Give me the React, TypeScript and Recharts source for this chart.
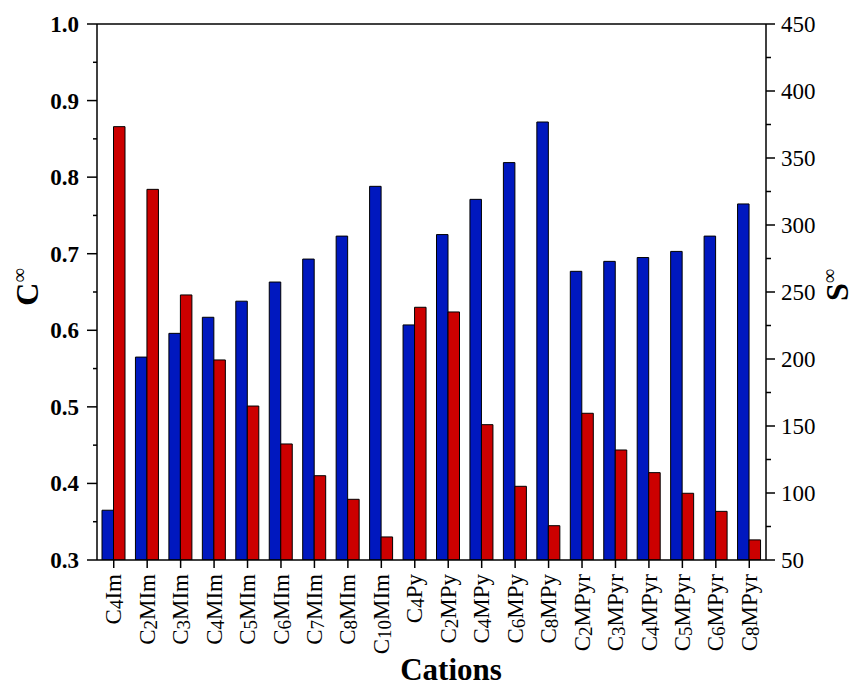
import React from "react";
import { BarChart, Bar, XAxis, YAxis, ReferenceLine } from "recharts";

const CATIONS = [
  "C4Im", "C2MIm", "C3MIm", "C4MIm", "C5MIm", "C6MIm", "C7MIm", "C8MIm", "C10MIm",
  "C4Py", "C2MPy", "C4MPy", "C6MPy", "C8MPy",
  "C2MPyr", "C3MPyr", "C4MPyr", "C5MPyr", "C6MPyr", "C8MPyr",
];
const C_INF = [
  0.365, 0.565, 0.596, 0.617, 0.638, 0.663, 0.693, 0.723, 0.788,
  0.607, 0.725, 0.771, 0.819, 0.872,
  0.677, 0.690, 0.695, 0.703, 0.723, 0.765,
];
const S_INF = [
  373.4, 326.6, 247.8, 199.3, 164.9, 136.6, 112.9, 95.3, 67.2,
  238.6, 235.1, 151.0, 105.0, 75.6,
  159.5, 132.1, 115.2, 99.8, 86.3, 65.0,
];
const LEFT_TICKS = [0.3, 0.35, 0.4, 0.45, 0.5, 0.55, 0.6, 0.65, 0.7, 0.75, 0.8, 0.85, 0.9, 0.95, 1.0];
const RIGHT_TICKS = [50, 75, 100, 125, 150, 175, 200, 225, 250, 275, 300, 325, 350, 375, 400, 425, 450];

const data = CATIONS.map((name, i) => ({ name, c: C_INF[i], s: S_INF[i] }));

const W = 854;
const H = 686;
const LEFT_W = 97;
const RIGHT_W = 88;
const TOP = 24;
const XAXIS_H = 126;
const PLOT_LEFT = LEFT_W;
const PLOT_RIGHT = W - RIGHT_W;
const FONT = "'Liberation Serif', 'Times New Roman', serif";
const BLUE = "#0018BF";
const RED = "#CC0000";

const LeftTick = (props: any) => {
  const { y, payload } = props;
  const v = payload.value as number;
  const major = Math.abs(v * 10 - Math.round(v * 10)) < 1e-6;
  return (
    <g>
      <line x1={PLOT_LEFT} x2={PLOT_LEFT - (major ? 10 : 4)} y1={y} y2={y} stroke="#000" strokeWidth={1.5} />
      {major && (
        <text x={PLOT_LEFT - 18} y={y} dy="0.35em" textAnchor="end" fontFamily={FONT} fontWeight="bold" fontSize={23} fill="#000">
          {v.toFixed(1)}
        </text>
      )}
    </g>
  );
};

const RightTick = (props: any) => {
  const { y, payload } = props;
  const v = payload.value as number;
  const major = v % 50 === 0;
  return (
    <g>
      <line x1={PLOT_RIGHT} x2={PLOT_RIGHT + (major ? 9 : 5)} y1={y} y2={y} stroke="#000" strokeWidth={1.5} />
      {major && (
        <text x={PLOT_RIGHT + 15} y={y} dy="0.35em" textAnchor="start" fontFamily={FONT} fontSize={23} fill="#000">
          {v}
        </text>
      )}
    </g>
  );
};

const XTick = (props: any) => {
  const { x, payload } = props;
  const label = String(payload.value);
  const m = label.match(/^C(\d+)(.*)$/);
  const sub = m ? m[1] : "";
  const rest = m ? m[2] : label;
  return (
    <g transform={`translate(${x},${574})`}>
      <text transform="rotate(-90)" textAnchor="end" dy="0.33em" fontFamily={FONT} fontSize={23} fill="#000">
        C
        <tspan fontSize={19} dy={2}>{sub}</tspan>
        <tspan dy={-2}>{rest}</tspan>
      </text>
    </g>
  );
};

export default function App() {
  return (
    <div style={{ position: "absolute", left: 0, top: 0, width: W, height: H, background: "#fff" }}>
      <BarChart
        width={W}
        height={H}
        data={data}
        margin={{ top: TOP, right: 0, left: 0, bottom: 0 }}
        barGap={0}
        barSize={11.5}
      >
        <XAxis
          dataKey="name"
          interval={0}
          height={XAXIS_H}
          tickSize={8}
          tickMargin={6}
          axisLine={{ stroke: "#000", strokeWidth: 1.5 }}
          tickLine={{ stroke: "#000", strokeWidth: 1.5 }}
          tick={<XTick />}
        />
        <YAxis
          yAxisId="left"
          orientation="left"
          width={LEFT_W}
          domain={[0.3, 1.0]}
          ticks={LEFT_TICKS}
          interval={0}
          allowDataOverflow
          tickLine={false}
          axisLine={{ stroke: "#000", strokeWidth: 1.5 }}
          tick={<LeftTick />}
        />
        <YAxis
          yAxisId="right"
          orientation="right"
          width={RIGHT_W}
          domain={[50, 450]}
          ticks={RIGHT_TICKS}
          interval={0}
          allowDataOverflow
          tickLine={false}
          axisLine={{ stroke: "#000", strokeWidth: 1.5 }}
          tick={<RightTick />}
        />
        <ReferenceLine yAxisId="left" y={1.0} stroke="#000" strokeWidth={1.5} />
        <Bar yAxisId="left" dataKey="c" fill={BLUE} stroke="#000" strokeWidth={1} isAnimationActive={false} />
        <Bar yAxisId="right" dataKey="s" fill={RED} stroke="#000" strokeWidth={1} isAnimationActive={false} />
      </BarChart>
      <svg width={W} height={H} style={{ position: "absolute", left: 0, top: 0, pointerEvents: "none" }}>
        <text transform="translate(38,287) rotate(-90)" textAnchor="middle" fontFamily={FONT} fontWeight="bold" fontSize={32} fill="#000">
          C<tspan fontSize={20} fontWeight="normal" dy={-12}>∞</tspan>
        </text>
        <text transform="translate(848,285) rotate(-90)" textAnchor="middle" fontFamily={FONT} fontWeight="bold" fontSize={32} fill="#000">
          S<tspan fontSize={20} fontWeight="normal" dy={-12}>∞</tspan>
        </text>
        <text x={451} y={680} textAnchor="middle" fontFamily={FONT} fontWeight="bold" fontSize={31} fill="#000">
          Cations
        </text>
      </svg>
    </div>
  );
}
